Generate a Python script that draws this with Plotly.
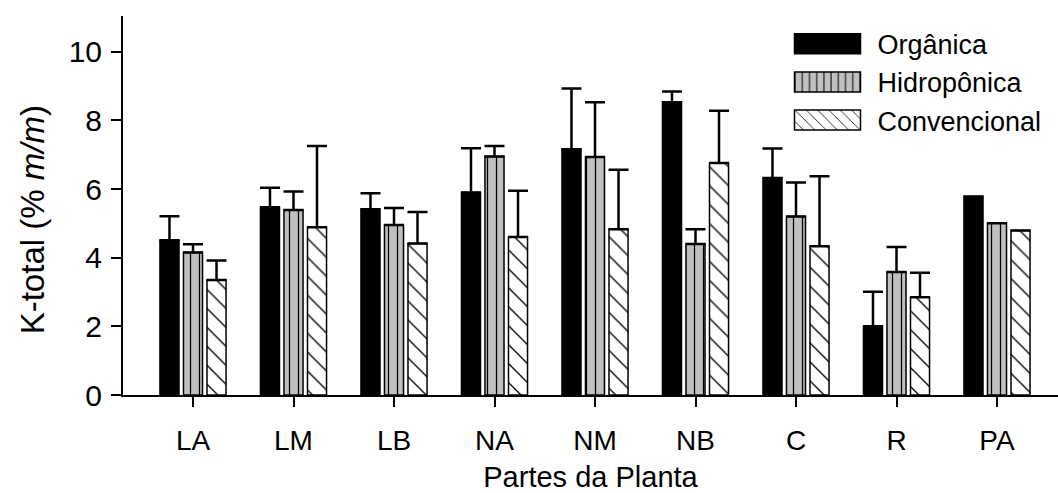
import plotly.graph_objects as go

# Plant parts on the x axis
parts = ["LA", "LM", "LB", "NA", "NM", "NB", "C", "R", "PA"]

# Mean K-total (% m/m) per cultivation system
organica = [4.51, 5.47, 5.41, 5.90, 7.16, 8.53, 6.32, 2.00, 5.78]
hidroponica = [4.15, 5.39, 4.95, 6.95, 6.93, 4.40, 5.20, 3.58, 5.00]
convencional = [3.35, 4.89, 4.41, 4.60, 4.83, 6.76, 4.33, 2.85, 4.79]

# Upper error (standard deviation); PA has no error bar
organica_err = [0.70, 0.57, 0.47, 1.29, 1.77, 0.31, 0.86, 1.01, None]
hidroponica_err = [0.24, 0.54, 0.50, 0.30, 1.60, 0.43, 0.99, 0.73, None]
convencional_err = [0.57, 2.36, 0.92, 1.35, 1.73, 1.52, 2.04, 0.71, None]

FONT = "Liberation Sans, Arial, Helvetica, sans-serif"
FS = 28


def err(vals):
    return dict(type="data", array=vals, arrayminus=[0] * len(vals),
                symmetric=False, color="black", thickness=2.5, width=10)


fig = go.Figure()
fig.add_trace(go.Bar(
    name="Orgânica", x=parts, y=organica, error_y=err(organica_err),
    marker=dict(color="black", line=dict(color="black", width=1.5)),
))
fig.add_trace(go.Bar(
    name="Hidropônica", x=parts, y=hidroponica, error_y=err(hidroponica_err),
    marker=dict(color="#c0c0c0", line=dict(color="black", width=1.5),
                pattern=dict(shape="|", bgcolor="#c0c0c0", fgcolor="black",
                             size=9, solidity=0.14, fillmode="replace")),
))
fig.add_trace(go.Bar(
    name="Convencional", x=parts, y=convencional, error_y=err(convencional_err),
    marker=dict(color="white", line=dict(color="black", width=1.5),
                pattern=dict(shape="\\", bgcolor="white", fgcolor="black",
                             size=13.4, solidity=0.1, fillmode="replace")),
))

xr = [-0.6965, 8.607]
yr = [0, 11.04]
yt = [0, 2, 4, 6, 8, 10]

fig.update_layout(
    width=1058, height=493,
    margin=dict(l=123, r=0, t=16, b=98),
    paper_bgcolor="white", plot_bgcolor="white",
    font=dict(family=FONT, size=FS, color="black"),
    barmode="group", bargap=0.298, bargroupgap=0.19,
    showlegend=True,
    legend=dict(x=0.70, y=0.99, xanchor="left", yanchor="top",
                bgcolor="rgba(0,0,0,0)", itemwidth=90,
                font=dict(family=FONT, size=27), tracegroupgap=0),
    xaxis=dict(
        type="category", range=xr, showgrid=False, zeroline=False,
        showline=True, linecolor="black", linewidth=2,
        ticks="outside", ticklen=10, tickwidth=2, tickcolor="black",
        ticklabelstandoff=9,
        tickfont=dict(family=FONT, size=28),
        title=dict(text="Partes da Planta", font=dict(family=FONT, size=29),
                   standoff=15),
    ),
    xaxis2=dict(
        overlaying="x", side="top", anchor="y", range=xr, type="linear",
        tickmode="array", tickvals=list(range(len(parts))),
        showticklabels=False, showgrid=False, zeroline=False,
        showline=True, linecolor="black", linewidth=2,
        ticks="inside", ticklen=10, tickwidth=2, tickcolor="black",
    ),
    yaxis=dict(
        range=yr, tickmode="array", tickvals=yt,
        showgrid=False, zeroline=False,
        showline=True, linecolor="black", linewidth=2,
        ticks="outside", ticklen=10, tickwidth=2, tickcolor="black",
        ticklabelstandoff=3,
        tickfont=dict(family=FONT, size=30),
    ),
    yaxis2=dict(
        overlaying="y", side="left", anchor="x", range=yr,
        tickmode="array", tickvals=yt,
        showticklabels=False, showgrid=False, zeroline=False, showline=False,
        ticks="inside", ticklen=10, tickwidth=2, tickcolor="black",
    ),
    yaxis3=dict(
        overlaying="y", side="right", anchor="x", range=yr,
        tickmode="array", tickvals=yt[1:],
        showticklabels=False, showgrid=False, zeroline=False, showline=False,
        ticks="inside", ticklen=3, tickwidth=1, tickcolor="#bbbbbb",
    ),
    annotations=[dict(
        text="K-total (% <i>m/m</i>)", textangle=-90,
        xref="paper", yref="paper", x=-0.0973, y=0.461,
        xanchor="center", yanchor="middle", showarrow=False,
        font=dict(family=FONT, size=33),
    )],
)

# Widen the legend swatches into long rectangles
post = """
var gd = document.getElementById('{plot_id}');
function wideSwatches() {
  gd.querySelectorAll('.legend .legendpoints path').forEach(function(p) {
    p.setAttribute('d', 'M33,10H-33V-10H33Z');
    p.style.strokeWidth = '1.5px';
  });
}
wideSwatches();
"""

fig.write_html("out.html", post_script=post)
